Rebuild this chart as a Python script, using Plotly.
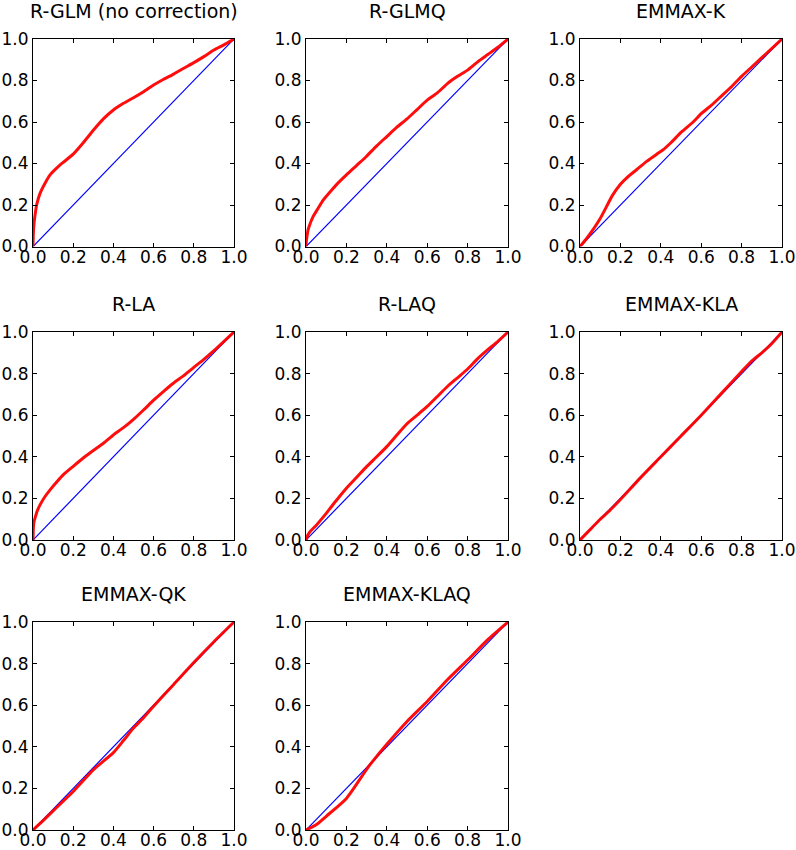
import plotly.graph_objects as go

titles = ["R-GLM (no correction)", "R-GLMQ", "EMMAX-K", "R-LA", "R-LAQ",
          "EMMAX-KLA", "EMMAX-QK", "EMMAX-KLAQ"]

glm_x = [0, 0.002, 0.005, 0.01, 0.018, 0.035, 0.06, 0.085, 0.12, 0.15, 0.2, 0.25, 0.3, 0.35,
         0.4, 0.45, 0.5, 0.55, 0.6, 0.65, 0.7, 0.75, 0.8, 0.85, 0.9, 0.95, 1.0]
glm_y = [0, 0.07, 0.11, 0.15, 0.2, 0.256, 0.305, 0.345, 0.38, 0.405, 0.445, 0.5, 0.56, 0.615,
         0.658, 0.69, 0.717, 0.746, 0.778, 0.806, 0.831, 0.859, 0.886, 0.915, 0.947, 0.972, 1.0]

glmq_x = [0, 0.002, 0.005, 0.01, 0.018, 0.035, 0.06, 0.085, 0.12, 0.15, 0.2, 0.25, 0.3, 0.35, 0.4,
          0.45, 0.5, 0.55, 0.6, 0.65, 0.7, 0.75, 0.8, 0.85, 0.9, 0.95, 1.0]
glmq_y = [0, 0.03, 0.05, 0.08, 0.104, 0.144, 0.184, 0.224, 0.264, 0.297, 0.345, 0.39, 0.435, 0.485, 0.53,
          0.575, 0.615, 0.66, 0.705, 0.74, 0.785, 0.82, 0.85, 0.89, 0.925, 0.96, 1.0]

k_x = [0, 0.03, 0.06, 0.1, 0.13, 0.16, 0.2, 0.23, 0.28, 0.33, 0.38, 0.41, 0.45, 0.5, 0.56, 0.6, 0.65,
       0.7, 0.75, 0.78, 0.8, 0.85, 0.9, 0.95, 1.0]
k_y = [0, 0.035, 0.075, 0.135, 0.19, 0.245, 0.3, 0.33, 0.37, 0.41, 0.445, 0.465, 0.5, 0.55, 0.6, 0.64, 0.68,
       0.725, 0.77, 0.8, 0.82, 0.865, 0.91, 0.955, 1.0]

la_x = [0, 0.002, 0.005, 0.01, 0.02, 0.035, 0.06, 0.085, 0.12, 0.15, 0.2, 0.25, 0.3, 0.35, 0.4, 0.45,
        0.5, 0.55, 0.6, 0.65, 0.7, 0.75, 0.8, 0.85, 0.9, 0.95, 1.0]
la_y = [0, 0.06, 0.088, 0.105, 0.137, 0.169, 0.209, 0.241, 0.281, 0.313, 0.354, 0.394, 0.43, 0.465, 0.505, 0.54,
        0.58, 0.625, 0.672, 0.715, 0.755, 0.79, 0.83, 0.868, 0.91, 0.955, 1.0]

laq_x = [0, 0.01, 0.02, 0.05, 0.1, 0.15, 0.2, 0.25, 0.3, 0.35, 0.4, 0.45, 0.5, 0.55, 0.6, 0.65, 0.7,
         0.75, 0.8, 0.85, 0.9, 0.95, 1.0]
laq_y = [0, 0.025, 0.04, 0.07, 0.128, 0.19, 0.249, 0.3, 0.353, 0.4, 0.449, 0.505, 0.559, 0.6, 0.642, 0.69, 0.738,
         0.78, 0.822, 0.872, 0.915, 0.955, 1.0]

kla_x = [0, 0.05, 0.1, 0.15, 0.2, 0.3, 0.4, 0.5, 0.6, 0.7, 0.8, 0.85, 0.9, 0.95, 1.0]
kla_y = [0, 0.05, 0.1, 0.145, 0.195, 0.3, 0.4, 0.5, 0.6, 0.705, 0.81, 0.86, 0.9, 0.945, 1.0]

qk_x = [0, 0.05, 0.1, 0.2, 0.3, 0.4, 0.45, 0.5, 0.55, 0.6, 0.7, 0.8, 0.9, 1.0]
qk_y = [0, 0.045, 0.092, 0.185, 0.289, 0.372, 0.43, 0.49, 0.54, 0.595, 0.7, 0.805, 0.905, 1.0]

klaq_x = [0, 0.05, 0.1, 0.2, 0.3, 0.33, 0.4, 0.5, 0.6, 0.7, 0.8, 0.9, 1.0]
klaq_y = [0, 0.025, 0.066, 0.152, 0.292, 0.33, 0.412, 0.522, 0.618, 0.722, 0.817, 0.915, 1.0]

series_x = [glm_x, glmq_x, k_x, la_x, laq_x, kla_x, qk_x, klaq_x]
series_y = [glm_y, glmq_y, k_y, la_y, laq_y, kla_y, qk_y, klaq_y]

diag = [0.0, 1.0]
tick_vals = [0.0, 0.2, 0.4, 0.6, 0.8, 1.0]
tick_text = ["0.0", "0.2", "0.4", "0.6", "0.8", "1.0"]

W, H = 796, 850
col_px = [(33, 234), (306, 508), (580, 782)]
row_px = [(39, 246.5), (332, 540), (622, 830)]

FONT = "DejaVu Sans"
fig = go.Figure()
annotations = []
layout = {}
for i, title in enumerate(titles):
    r, c = divmod(i, 3)
    n = "" if i == 0 else str(i + 1)
    xd = [col_px[c][0] / W, col_px[c][1] / W]
    yd = [1 - row_px[r][1] / H, 1 - row_px[r][0] / H]
    ax = dict(range=[0, 1], tickvals=tick_vals, ticktext=tick_text, ticks="inside",
              ticklen=4, tickwidth=1, tickcolor="black", showline=True, linecolor="black",
              linewidth=1, mirror="allticks", showgrid=False, zeroline=False,
              tickfont=dict(family=FONT, size=17, color="black"), automargin=False,
              fixedrange=True)
    layout["xaxis" + n] = dict(ax, domain=xd, anchor="y" + n, ticklabelstandoff=-5)
    layout["yaxis" + n] = dict(ax, domain=yd, anchor="x" + n)
    fig.add_trace(go.Scatter(x=diag, y=diag, mode="lines", line=dict(color="#0000ff", width=1.2),
                             xaxis="x" + n, yaxis="y" + n, showlegend=False, hoverinfo="skip"))
    fig.add_trace(go.Scatter(x=series_x[i], y=series_y[i], mode="lines",
                             line=dict(color="#ff0000", width=3, shape="spline", smoothing=0.6),
                             opacity=0.95, xaxis="x" + n, yaxis="y" + n, showlegend=False))
    annotations.append(dict(text=title, x=(xd[0] + xd[1]) / 2, y=yd[1], xref="paper", yref="paper",
                            xanchor="center", yanchor="bottom", yshift=15, showarrow=False,
                            font=dict(family=FONT, size=19, color="black")))

fig.update_layout(**layout)
fig.update_layout(width=W, height=H, margin=dict(l=0, r=0, t=0, b=0),
                  paper_bgcolor="white", plot_bgcolor="white", annotations=annotations)
fig.write_html("out.html", config={"displayModeBar": False},
               post_script="document.body.style.margin='0';document.body.style.padding='0';")
